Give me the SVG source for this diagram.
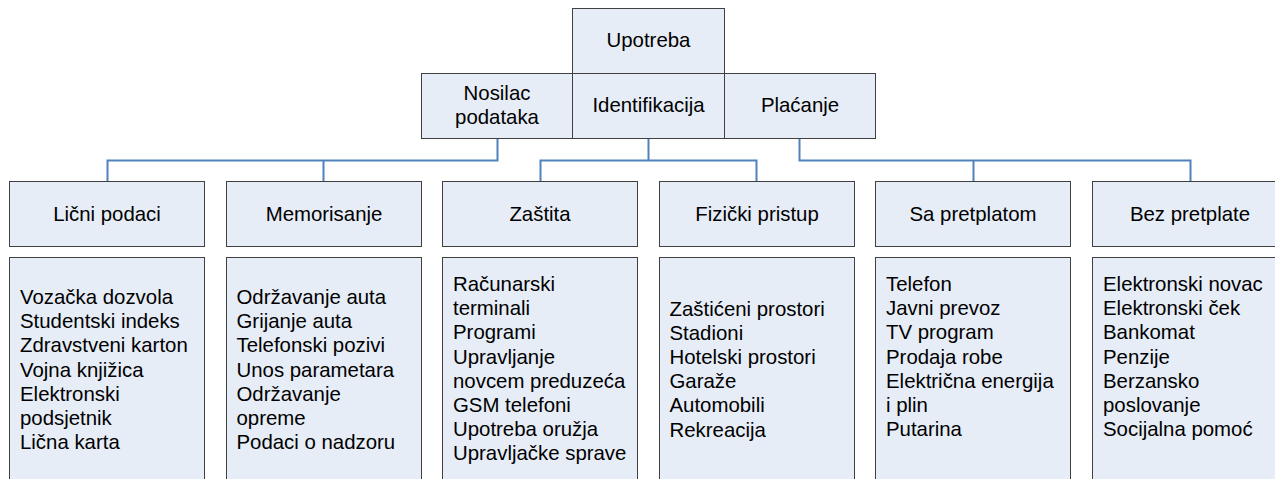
<svg xmlns="http://www.w3.org/2000/svg" width="1275" height="479" viewBox="0 0 1275 479">
<style>
.box{fill:#E7EDF7;stroke:#404040;stroke-width:1}
.t{font-family:"Liberation Sans",Arial,sans-serif;font-size:20.4px;fill:#000}
.c{text-anchor:middle}
.con{fill:none;stroke:#4F81BD;stroke-width:2}
</style>
<rect width="1275" height="479" fill="#fff"/>
<g id="connectors">
<path class="con" d="M497.5 138.5V160.5H107.5V181.5M323.5 160.5V181.5"/>
<path class="con" d="M648.5 138.5V160.5M540.5 181.5V160.5H756.5V181.5"/>
<path class="con" d="M799.5 138.5V160.5H1190.5V181.5M973.5 160.5V181.5"/>
</g>
<g id="upotreba"><rect class="box" x="572.5" y="8.5" width="152" height="65"/><text class="t c" x="648.5" y="47">Upotreba</text></g>
<g id="nosilac"><rect class="box" x="421.5" y="73.5" width="151" height="65"/><text class="t c" x="497" y="100">Nosilac</text><text class="t c" x="497" y="124">podataka</text></g>
<g id="identifikacija"><rect class="box" x="572.5" y="73.5" width="152" height="65"/><text class="t c" x="648.5" y="112">Identifikacija</text></g>
<g id="placanje"><rect class="box" x="724.5" y="73.5" width="151" height="65"/><text class="t c" x="800" y="112">Plaćanje</text></g>

<g id="licni"><rect class="box" x="9.5" y="181.5" width="195" height="65"/><text class="t c" x="107" y="220.5">Lični podaci</text></g>
<g id="memorisanje"><rect class="box" x="226.5" y="181.5" width="195" height="65"/><text class="t c" x="324" y="220.5">Memorisanje</text></g>
<g id="zastita"><rect class="box" x="442.5" y="181.5" width="195" height="65"/><text class="t c" x="540" y="220.5">Zaštita</text></g>
<g id="fizicki"><rect class="box" x="659.5" y="181.5" width="195" height="65"/><text class="t c" x="757" y="220.5">Fizički pristup</text></g>
<g id="sapretplatom"><rect class="box" x="875.5" y="181.5" width="195" height="65"/><text class="t c" x="973" y="220.5">Sa pretplatom</text></g>
<g id="bezpretplate"><rect class="box" x="1092.5" y="181.5" width="195" height="65"/><text class="t c" x="1190" y="220.5">Bez pretplate</text></g>

<g id="list-licni"><rect class="box" x="9.5" y="257.5" width="195" height="240"/>
<text class="t" x="20" y="304">Vozačka dozvola</text><text class="t" x="20" y="328.2">Studentski indeks</text><text class="t" x="20" y="352.4">Zdravstveni karton</text><text class="t" x="20" y="376.6">Vojna knjižica</text><text class="t" x="20" y="400.8">Elektronski</text><text class="t" x="20" y="425">podsjetnik</text><text class="t" x="20" y="449.2">Lična karta</text></g>
<g id="list-memorisanje"><rect class="box" x="226.5" y="257.5" width="195" height="240"/>
<text class="t" x="236.5" y="304">Održavanje auta</text><text class="t" x="236.5" y="328.2">Grijanje auta</text><text class="t" x="236.5" y="352.4">Telefonski pozivi</text><text class="t" x="236.5" y="376.6">Unos parametara</text><text class="t" x="236.5" y="400.8">Održavanje</text><text class="t" x="236.5" y="425">opreme</text><text class="t" x="236.5" y="449.2">Podaci o nadzoru</text></g>
<g id="list-zastita"><rect class="box" x="442.5" y="257.5" width="195" height="240"/>
<text class="t" x="453" y="291">Računarski</text><text class="t" x="453" y="315.2">terminali</text><text class="t" x="453" y="339.4">Programi</text><text class="t" x="453" y="363.6">Upravljanje</text><text class="t" x="453" y="387.8">novcem preduzeća</text><text class="t" x="453" y="412">GSM telefoni</text><text class="t" x="453" y="436.2">Upotreba oružja</text><text class="t" x="453" y="460.4">Upravljačke sprave</text></g>
<g id="list-fizicki"><rect class="box" x="659.5" y="257.5" width="195" height="240"/>
<text class="t" x="669.5" y="315.5">Zaštićeni prostori</text><text class="t" x="669.5" y="339.7">Stadioni</text><text class="t" x="669.5" y="363.9">Hotelski prostori</text><text class="t" x="669.5" y="388.1">Garaže</text><text class="t" x="669.5" y="412.3">Automobili</text><text class="t" x="669.5" y="436.5">Rekreacija</text></g>
<g id="list-sapretplatom"><rect class="box" x="875.5" y="257.5" width="195" height="240"/>
<text class="t" x="886" y="291">Telefon</text><text class="t" x="886" y="315.2">Javni prevoz</text><text class="t" x="886" y="339.4">TV program</text><text class="t" x="886" y="363.6">Prodaja robe</text><text class="t" x="886" y="387.8">Električna energija</text><text class="t" x="886" y="412">i plin</text><text class="t" x="886" y="436.2">Putarina</text></g>
<g id="list-bezpretplate"><rect class="box" x="1092.5" y="257.5" width="195" height="240"/>
<text class="t" x="1103" y="291">Elektronski novac</text><text class="t" x="1103" y="315.2">Elektronski ček</text><text class="t" x="1103" y="339.4">Bankomat</text><text class="t" x="1103" y="363.6">Penzije</text><text class="t" x="1103" y="387.8">Berzansko</text><text class="t" x="1103" y="412">poslovanje</text><text class="t" x="1103" y="436.2">Socijalna pomoć</text></g>
</svg>
